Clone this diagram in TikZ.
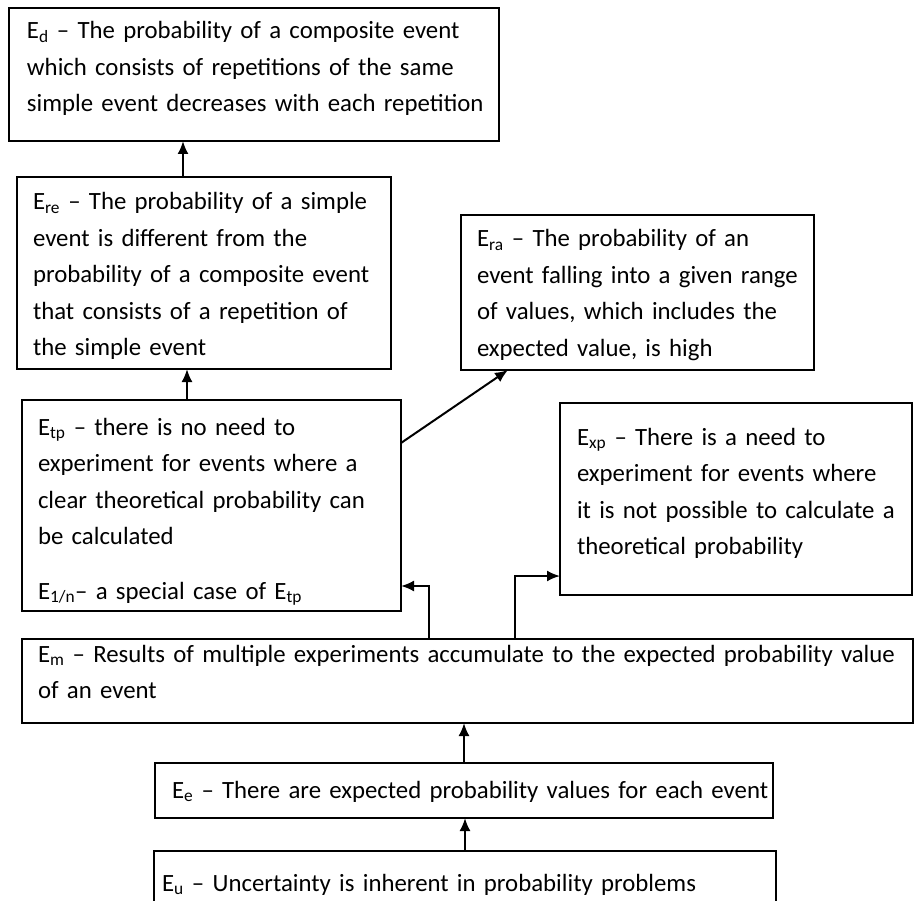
\documentclass[tikz,border=0pt]{standalone}
\usepackage{fontspec}
\setmainfont{Carlito}
\usetikzlibrary{arrows.meta}
\tikzset{indent/.style = {execute at begin node={\leftskip=#1\rightskip=-40pt plus 1fil}}}
\tikzset{boxsize/.style n args = {3}{text width=#1, text height=#2, text depth=#3}}
\tikzset{event/.style = {draw, line width=1.5pt, anchor=north west, inner sep=0pt, outer sep=0pt, align=left, font=\fontsize{24.8}{36.5}\selectfont, indent=16pt}}
\tikzset{edge/.style = {-{Latex[length=13pt,width=11pt]}, line width=2pt}}

\begin{document}
\begin{tikzpicture}[x=1pt,y=-1pt]
		\useasboundingbox (0,0) rectangle (915,901);
		\clip (0,0) rectangle (915,901);
		
		% events
		\node[event, boxsize={490pt}{31pt}{102pt}, indent=18pt] (Ed) at (9,8) {E\textsubscript{d} -- The probability of a composite event\\ which consists of repetitions of the same\\ simple event decreases with each repetition};
		\node[event, boxsize={374pt}{33pt}{159pt}] (Ere) at (17,177) {E\textsubscript{re} -- The probability of a simple\\ event is different from the\\ probability of a composite event\\ that consists of a repetition of\\ the simple event};
		\node[event, boxsize={353pt}{32pt}{123pt}] (Era) at (461,215) {E\textsubscript{ra} -- The probability of an\\ event falling into a given range\\ of values, which includes the\\ expected value, is high};
		\node[event, boxsize={379pt}{35pt}{176pt}] (Etp) at (22,400) {E\textsubscript{tp} -- there is no need to\\ experiment for events where a\\ clear theoretical probability can\\ be calculated\\[18pt] E\textsubscript{1/n}-- a special case of E\textsubscript{tp}};
		\node[event, boxsize={352pt}{42pt}{150pt}, indent=17pt] (Exp) at (560,403) {E\textsubscript{xp} -- There is a need to\\ experiment for events where\\ it is not possible to calculate a\\ theoretical probability};
		\node[event, boxsize={891pt}{23pt}{61pt}] (Em) at (22,639) {E\textsubscript{m} -- Results of multiple experiments accumulate to the expected probability value\\ of an event};
		\node[event, boxsize={618pt}{35pt}{20pt}, indent=17pt] (Ee) at (155,763) {E\textsubscript{e} -- There are expected probability values for each event};
		\node[event, boxsize={622pt}{40pt}{44pt}, indent=8pt] (Eu) at (154,851) {E\textsubscript{u} -- Uncertainty is inherent in probability problems};
		
		% arrow points
		\coordinate (a1) at ([xshift=166pt]Ere.north west);
		\coordinate (a2) at ([xshift=165pt]Etp.north west);
		
		% edges
		\draw[edge] (a1) -- (a1 |- Ed.south);
		\draw[edge] (a2) -- (a2 |- Ere.south);
		\draw[edge] ([yshift=-43pt]Etp.north east) -- ([xshift=47pt]Era.south west);
		\draw[edge] ([xshift=-7pt]Em.north) -| ([xshift=28pt,yshift=25pt]Etp.south east) -- ([yshift=25pt]Etp.south east);
		\draw[edge] ([xshift=6pt]Em.north) -| ([xshift=-45pt,yshift=19pt]Exp.south west) -- ([yshift=19pt]Exp.south west);
		\draw[edge] (Ee.north) -- (Ee.north |- Em.south);
		\draw[edge] (Eu.north) -- (Eu.north |- Ee.south);
	\end{tikzpicture}
\end{document}
